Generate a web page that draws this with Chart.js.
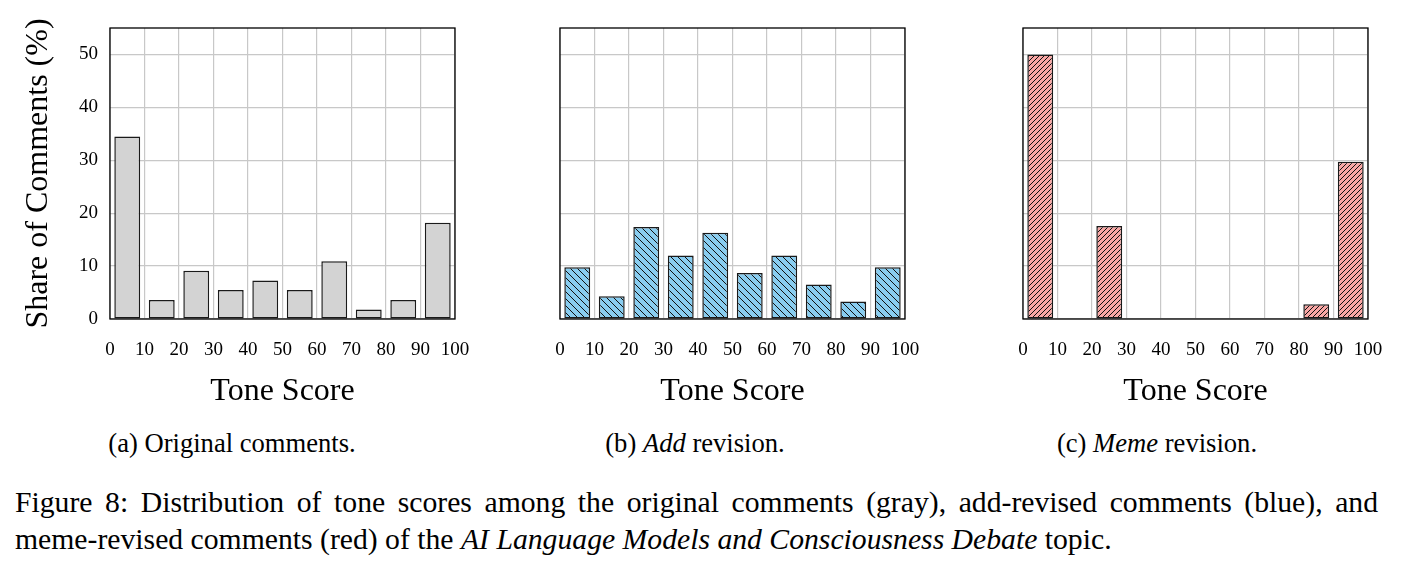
<!DOCTYPE html>
<html><head><meta charset="utf-8">
<script src="https://cdn.jsdelivr.net/npm/chart.js@4.4.1/dist/chart.umd.min.js"></script>
<style>
body{margin:0;background:#fff;width:1404px;height:573px;overflow:hidden;position:relative;font-family:'Liberation Serif',serif;color:#000}
.p{position:absolute;top:0;height:420px}
.cap{position:absolute;top:443px;font-size:26.6px;white-space:nowrap;transform:translate(-50%,-50%)}
.fig{position:absolute;left:15px;font-size:29.7px;line-height:37px;white-space:nowrap}
</style></head><body>
<div class="p" style="left:0;width:480px"><canvas id="c1"></canvas></div>
<div class="p" style="left:540px;width:390px"><canvas id="c2"></canvas></div>
<div class="p" style="left:1000px;width:400px"><canvas id="c3"></canvas></div>
<div class="cap" style="left:232px">(a) Original comments.</div>
<div class="cap" style="left:695px">(b) <i>Add</i> revision.</div>
<div class="cap" style="left:1157px">(c) <i>Meme</i> revision.</div>
<div class="fig" style="top:484px;width:1363px;text-align:justify;text-align-last:justify">Figure 8: Distribution of tone scores among the original comments (gray), add-revised comments (blue), and</div>
<div class="fig" style="top:521px">meme-revised comments (red) of the <i>AI Language Models and Consciousness Debate</i> topic.</div>
<script>
// ---- data ----
const binCenters = [5, 15, 25, 35, 45, 55, 65, 75, 85, 95];
const xTickValues = [0, 10, 20, 30, 40, 50, 60, 70, 80, 90, 100];
const yTickValues = [0, 10, 20, 30, 40, 50];
const originalShare = [34.5, 3.6, 9.1, 5.5, 7.3, 5.5, 10.9, 1.8, 3.6, 18.2];
const addShare = [9.8, 4.3, 17.4, 12.0, 16.3, 8.7, 12.0, 6.5, 3.3, 9.8];
const memeShare = [50.0, 0, 17.6, 0, 0, 0, 0, 0, 2.8, 29.7];
const xTitle = 'Tone Score';
const yTitle = 'Share of Comments (%)';

function hatch(bg, dir, size) {
  const c = document.createElement('canvas');
  c.width = size; c.height = size;
  const g = c.getContext('2d');
  g.fillStyle = bg; g.fillRect(0, 0, size, size);
  g.strokeStyle = '#111'; g.lineWidth = 1;
  g.beginPath();
  if (dir === 'back') {
    g.moveTo(-1, -1); g.lineTo(size + 1, size + 1);
    g.moveTo(size - 1, -1); g.lineTo(size + 1, 1);
    g.moveTo(-1, size - 1); g.lineTo(1, size + 1);
  } else {
    g.moveTo(-1, size + 1); g.lineTo(size + 1, -1);
    g.moveTo(-1, 1); g.lineTo(1, -1);
    g.moveTo(size - 1, size + 1); g.lineTo(size + 1, size - 1);
  }
  g.stroke();
  return g.createPattern(c, 'repeat');
}

const frame = {
  id: 'frame',
  afterDatasetsDraw(chart) {
    const {ctx, chartArea: a} = chart;
    ctx.save();
    ctx.strokeStyle = '#000'; ctx.lineWidth = 1.3;
    ctx.strokeRect(a.left, a.top, a.right - a.left, a.bottom - a.top);
    ctx.restore();
  }
};

function make(id, values, fill, yWidth, padRight, showY) {
  return new Chart(document.getElementById(id), {
    type: 'bar',
    data: {
      datasets: [{
        data: binCenters.map((x, i) => ({x, y: values[i]})),
        backgroundColor: fill,
        borderColor: '#1a1a1a',
        borderWidth: 1.5,
        borderSkipped: false,
        barPercentage: 0.75,
        categoryPercentage: 1
      }]
    },
    options: {
      responsive: true, maintainAspectRatio: false, animation: false,
      layout: {padding: {top: 28, right: padRight, bottom: 0, left: 0}},
      plugins: {legend: {display: false}, tooltip: {enabled: false}},
      scales: {
        x: {
          type: 'linear', min: 0, max: 100, offset: false,
          afterBuildTicks: s => { s.ticks = xTickValues.map(v => ({value: v})); },
          afterFit: s => { s.height = 101; s.paddingLeft = 0; s.paddingRight = 0; },
          grid: {color: '#c8c8c8', lineWidth: 1.2, drawTicks: false, offset: false},
          border: {display: false},
          ticks: {padding: 20, color: '#000', font: {family: 'Liberation Serif', size: 19}, maxRotation: 0, autoSkip: false},
          title: {display: true, text: xTitle, color: '#000', font: {family: 'Liberation Serif', size: 32}, padding: {top: 0, bottom: 9}}
        },
        y: {
          min: 0, max: 55,
          afterBuildTicks: s => { s.ticks = yTickValues.map(v => ({value: v})); },
          afterFit: s => { s.width = yWidth; s.paddingTop = 0; s.paddingBottom = 0; },
          grid: {color: '#c8c8c8', lineWidth: 1.2, drawTicks: false},
          border: {display: false},
          ticks: {display: showY, padding: 12, color: '#000', font: {family: 'Liberation Serif', size: 19}},
          title: {display: showY, text: yTitle, color: '#000', font: {family: 'Liberation Serif', size: 32}, padding: {top: 19, bottom: 0}}
        }
      }
    },
    plugins: [frame]
  });
}

make('c1', originalShare, '#d3d3d3', 110, 25, true);
make('c2', addShare, hatch('#89cdf0', 'back', 7), 20, 25, false);
make('c3', memeShare, hatch('#f9a7a5', 'fwd', 5), 23, 32, false);
</script>
</body></html>
